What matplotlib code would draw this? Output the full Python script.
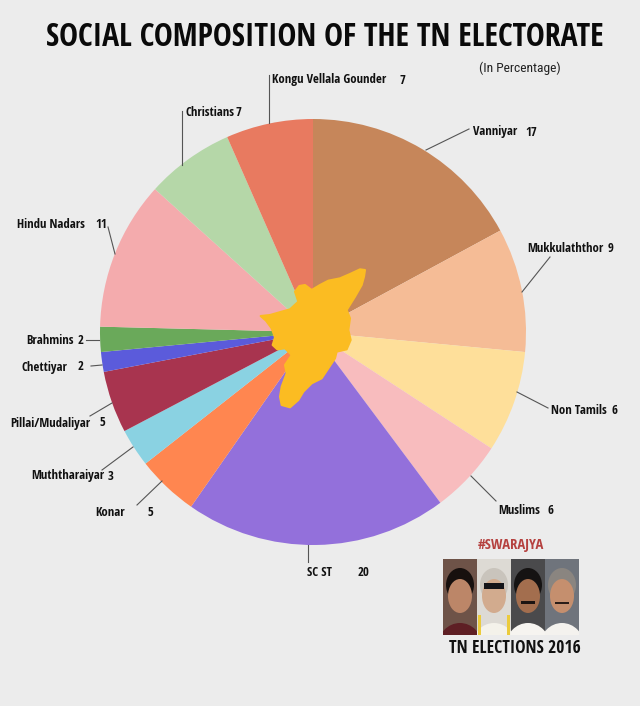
import matplotlib
matplotlib.use("Agg")
import matplotlib.pyplot as plt
from matplotlib.patches import Polygon, Rectangle, Ellipse

groups = ["Vanniyar", "Mukkulaththor", "Non Tamils", "Muslims", "SC ST", "Konar", "Muththaraiyar",
          "Pillai/Mudaliyar", "Chettiyar", "Brahmins", "Hindu Nadars", "Christians", "Kongu Vellala Gounder"]
printed_values = ["17", "9", "6", "6", "20", "5", "3", "5", "2", "2", "11", "7", "7"]
# wedge sizes as measured on the picture (the printed labels are rounded / differ slightly)
drawn_shares = [17.1, 9.4, 7.7, 5.6, 19.9, 4.7, 2.9, 4.7, 1.5, 1.9, 11.3, 6.7, 6.6]
colors = ["#C6865A", "#F5BC96", "#FEDF9A", "#F8BCBE", "#9370DB", "#FF8650", "#8AD2E2",
          "#A8344F", "#5B5BDB", "#6AA95A", "#F4ABAD", "#B5D7A8", "#E87A60"]
# label layout in reference pixels: name x, value x, y
label_pos = [(473, 525, 132), (527, 608, 248), (551, 612, 410), (498, 548, 510), (307, 358, 573),
             (95, 147, 513), (31, 108, 476), (10, 100, 423), (22, 78, 367), (26, 78, 340),
             (17, 95, 224), (185, 236, 112), (272, 400, 80)]
leaders = [((469, 129), (426, 150)), ((550, 257), (522, 292)), ((548, 408), (517, 392)),
           ((496, 501), (471, 476)), ((308, 545), (308, 562)), ((137, 505), (162, 481)),
           ((102, 470), (133, 447)), ((90, 416), (112, 403)), ((91, 366), (102, 365)),
           ((86, 340), (99, 340)), ((108, 227), (115, 254)), ((182, 111), (182, 165)),
           ((269, 75), (269, 123))]

CONDENSED = ["Open Sans Condensed", "Roboto Condensed", "DejaVu Sans"]
BG = "#ECECEC"
H = 706

fig = plt.figure(figsize=(6.4, 7.06), dpi=100, facecolor=BG)
ax = fig.add_axes([0, 0, 1, 1])
ax.set_facecolor(BG)

ax.pie(drawn_shares, colors=colors, startangle=90, counterclock=False,
       center=(313, H - 332), radius=213, wedgeprops=dict(linewidth=0))
ax.set_xlim(0, 640)
ax.set_ylim(0, H)
ax.set_aspect("equal")
ax.axis("off")

def Y(y):
    return H - y

# Tamil Nadu silhouette
outline = [(375,60),(360,58),(330,72),(300,85),(265,92),(240,105),(215,120),(195,105),(178,108),
           (165,125),(175,155),(150,178),(125,185),(90,195),(62,198),(78,212),(95,235),(105,262),
           (98,285),(112,298),(135,295),(155,315),(135,345),(140,370),(125,410),(120,440),(125,465),
           (150,472),(175,450),(190,425),(215,400),(245,385),(265,355),(285,325),(290,305),(320,298),
           (332,270),(325,240),(330,205),(320,180),(345,140),(365,105),(372,80)]
ax.add_patch(Polygon([(240 + x / 3, Y(250 + y / 3)) for x, y in outline], closed=True,
                     fc="#FBBC22", ec="#FBBC22", lw=1.5, joinstyle="round", zorder=5))

# labels and leader lines
for name, val, (nx, vx, y), (a, b) in zip(groups, printed_values, label_pos, leaders):
    ax.text(nx, Y(y), name, family=CONDENSED, weight="bold", fontsize=9.2, va="center", ha="left", color="#111111")
    ax.text(vx, Y(y), val, family=CONDENSED, weight="bold", fontsize=9.2, va="center", ha="left", color="#111111")
    ax.plot([a[0], b[0]], [Y(a[1]), Y(b[1])], color="#555555", lw=0.8, zorder=6)

ax.text(325, Y(37), "SOCIAL COMPOSITION OF THE TN ELECTORATE", family=CONDENSED, weight="bold",
        fontsize=22.9, ha="center", va="center", color="#0A0A0A")
ax.text(520, Y(68), "(In Percentage)", family=["Roboto Condensed", "DejaVu Sans"], fontsize=9.7, ha="center", va="center", color="#222222")
ax.text(511, Y(545), "#SWARAJYA", family=CONDENSED, weight="bold", fontsize=10.5, ha="center", va="center", color="#B5413F")
ax.text(515, Y(648), "TN ELECTIONS 2016", family=CONDENSED, weight="bold", fontsize=12.6, ha="center", va="center", color="#111111")

# small stand-in for the photo strip
panels = [
    dict(x=443, bg="#6E5348", hair="#17100E", face="#BC8668", cloth="#5E1F24"),
    dict(x=477, bg="#DDDAD4", hair="#C9C4BC", face="#D2AB8E", cloth="#F4F2EA"),
    dict(x=511, bg="#4A4A4C", hair="#151313", face="#A36E4E", cloth="#F6F4F0"),
    dict(x=545, bg="#6F747C", hair="#8A8580", face="#C58F6E", cloth="#F4F2EE"),
]
for p in panels:
    x = p["x"]
    clip = Rectangle((x, Y(635)), 34, 76, fc=p["bg"], ec="none", zorder=7)
    ax.add_patch(clip)
    cx = x + 17
    shapes = [
        Ellipse((cx, Y(646)), 44, 46, fc=p["cloth"], ec="none", zorder=8),
        Ellipse((cx, Y(585)), 28, 34, fc=p["hair"], ec="none", zorder=8),
        Ellipse((cx, Y(596)), 24, 34, fc=p["face"], ec="none", zorder=9),
    ]
    for s in shapes:
        ax.add_patch(s)
        s.set_clip_path(clip)
# sunglasses, sash, moustaches
ax.add_patch(Rectangle((484, Y(589)), 20, 6, fc="#141418", ec="none", zorder=10))
ax.add_patch(Rectangle((478, Y(635)), 3, 20, fc="#EBCB3C", ec="none", zorder=10))
ax.add_patch(Rectangle((507, Y(635)), 3, 20, fc="#EBCB3C", ec="none", zorder=10))
ax.add_patch(Rectangle((521, Y(604)), 14, 3, fc="#1C1412", ec="none", zorder=10))
ax.add_patch(Rectangle((555, Y(604)), 14, 2, fc="#2A1D18", ec="none", zorder=10))

fig.savefig("out.png", dpi=100, facecolor=BG)
